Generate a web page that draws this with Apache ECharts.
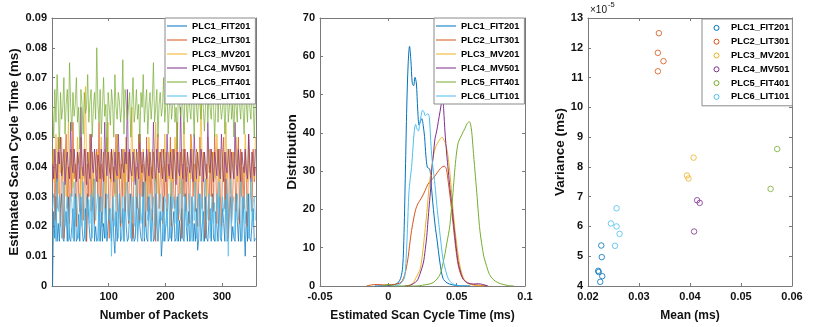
<!DOCTYPE html>
<html><head><meta charset="utf-8">
<script src="https://cdn.jsdelivr.net/npm/echarts@6/dist/echarts.min.js"></script>
<style>html,body{margin:0;padding:0;background:#fff}#c{width:817px;height:327px}</style>
</head><body><div id="c"></div>
<script>
// ---------------- DATA ----------------
const names = ['PLC1_FIT201','PLC2_LIT301','PLC3_MV201','PLC4_MV501','PLC5_FIT401','PLC6_LIT101'];
const colors = ['#0072BD','#D95319','#EDB120','#7E2F8E','#77AC30','#4DBEEE'];

// Panel 1: estimated scan cycle time per packet, in microseconds (1e-3 ms),
// one sample every 2 packets starting at packet 1
const ts_plc1 = [0,25,16,30,15,21,15,26,31,16,15,22,25,15,30,16,15,20,26,15,
31,15,16,24,15,30,20,15,16,26,15,31,22,16,15,25,36,15,20,15,
16,30,15,25,15,21,16,31,15,15,26,20,15,30,16,11,25,15,22,31,
15,16,26,15,30,20,15,16,25,31,15,21,15,16,30,15,26,20,16,15,
35,15,25,16,15,30,22,15,26,15,16,31,20,15,15,25,10,16,30,15,
21,26,15,16,31,15,20,25,15,16,30,15,22,15,26,16,15,31,20,15,
25,15,16,30,15,21,15,26,12,16,31,15,20,25,15,30,16,15,22,26,
15,31,16,15,25,20,15,30,16,15,26,21,15,36,15,16,25,30,15,20,
16,15,31,22,15,26,15,16,30,20,10,25,15,31,16,15,21,26,15,16];
const ts_plc2 = [35,46,22,41,26,50,31,20,45,36,16,41,51,26,40,21,46,30,55,36,
41,20,45,31,25,50,40,22,36,46,15,41,30,51,25,45,36,21,40,46,
30,55,25,41,20,45,35,26,50,41,16,36,46,22,40,31,51,25,45,36,
20,41,30,46,25,50,36,21,45,41,31,16,46,35,40,26,51,22,45,30,
41,36,20,50,25,46,31,40,22,45,35,15,41,51,26,36,46,21,40,30,
45,25,41,36,50,20,46,31,26,40,55,22,35,45,16,41,30,46,25,40,
36,21,51,45,30,41,25,46,20,35,50,40,26,45,31,16,41,36,22,46,
30,45,25,51,40,21,36,46,31,20,41,50,26,45,35,16,40,46,22,31,
45,36,25,41,50,21,46,30,40,26,45,36,20,51,41,31,25,46,35,40];
const ts_plc3 = [40,46,35,51,41,31,45,38,50,36,41,46,30,40,55,36,45,41,33,46,
39,35,50,41,45,30,40,36,46,67,41,35,45,40,51,36,30,46,41,38,
45,35,41,50,36,40,46,31,41,55,38,45,35,40,46,30,41,51,36,45,
40,35,46,41,31,50,39,45,36,41,60,35,46,40,30,45,41,51,36,40,
46,35,41,45,30,50,40,36,46,41,35,55,40,31,45,38,41,46,35,51,
40,36,45,41,30,46,40,35,50,41,36,45,39,31,46,41,55,36,40,45,
35,41,50,36,46,40,31,45,41,35,46,62,40,36,45,41,30,50,38,46,
41,35,45,40,36,51,41,30,46,40,35,45,41,55,36,40,46,31,41,45,
36,40,50,35,46,41,31,45,40,36,51,41,35,46,40,30,45,41,36,50];
const ts_plc4 = [41,36,46,39,35,45,41,50,37,40,46,34,41,45,39,36,55,41,38,46,
40,35,45,42,36,60,40,37,46,41,34,45,39,36,51,41,38,46,40,35,
44,41,36,46,39,35,55,41,37,45,40,36,46,42,35,45,39,37,51,41,
36,46,40,38,45,41,66,35,46,39,37,45,41,34,46,40,36,51,41,38,
45,40,35,46,41,37,45,39,36,55,41,35,46,40,38,45,41,36,46,39,
35,51,41,37,45,40,36,46,41,34,45,39,37,60,41,36,46,40,35,45,
41,38,46,39,35,51,41,36,45,40,37,46,42,35,45,39,36,55,41,38,
46,40,35,45,41,37,46,39,36,51,41,35,45,40,38,46,41,36,45,39,
36,55,41,37,46,40,35,45,41,38,46,39,36,51,41,35,45,40,37,46];
const ts_plc5 = [60,50,66,55,71,61,46,65,56,60,70,51,61,66,55,75,60,52,65,57,
61,70,55,60,46,66,61,51,65,58,60,71,55,62,66,50,60,65,56,80,
61,55,66,51,60,70,57,61,45,65,60,54,66,61,50,71,60,56,65,62,
55,60,76,51,66,61,56,60,65,50,61,70,55,59,66,56,61,48,65,60,
71,55,61,66,51,60,65,56,62,75,55,60,66,50,61,65,57,60,70,55,
61,66,51,60,65,56,61,71,55,60,46,66,61,57,65,60,51,70,61,55,
66,60,56,65,61,50,71,60,55,66,61,56,65,60,52,61,70,55,66,60,
56,65,61,50,60,76,55,66,61,56,60,65,51,61,70,55,60,66,56,61,
50,65,60,55,71,61,56,66,60,51,65,61,55,70,60,56,66,61,50,65];
const ts_plc6 = [26,31,21,15,36,25,30,22,16,29,35,20,26,30,15,25,31,28,16,35,
22,30,25,16,31,27,20,35,26,15,30,24,29,21,31,16,25,36,22,28,
31,15,26,30,20,35,25,16,29,31,22,26,10,30,25,20,36,28,16,31,
25,21,30,15,28,35,26,22,31,16,25,30,20,29,36,15,26,31,21,25,
30,16,35,26,22,28,31,15,25,30,20,36,29,16,26,31,22,25,15,30,
28,20,31,25,16,35,26,30,21,29,15,31,25,22,36,28,16,30,26,20,
31,25,15,30,28,22,35,16,26,31,20,25,30,15,29,36,22,26,31,16,
25,30,21,28,15,31,26,35,20,16,30,25,29,22,31,10,26,36,21,28,
30,16,25,31,22,28,35,15,26,30,21,29,31,16,25,36,20,28,30,22];
const tsSeries = [ts_plc1, ts_plc2, ts_plc3, ts_plc4, ts_plc5, ts_plc6];
const packetTicks = {min:0, max:360, interval:100};

// Panel 2: distribution (kernel density) of scan cycle time, [ms, density]
const kde_plc1 = [[-0.01,0],[0,0.1],[0.004,0.3],[0.007,0.8],[0.009,2],[0.0105,5],[0.0115,14],[0.0125,30],[0.0135,47],[0.0145,58],[0.0155,62.6],[0.0165,59],[0.0175,53],[0.0185,52.3],[0.0195,54.5],[0.0205,53],[0.0215,46],[0.0225,42],[0.0235,43],[0.0245,43.7],[0.0255,42],[0.0265,39],[0.0275,34],[0.0285,31],[0.0295,30.8],[0.0305,30.3],[0.0315,26],[0.033,20],[0.0345,15],[0.0355,12.5],[0.0378,6],[0.040,2],[0.043,0.8],[0.047,0.3],[0.052,0.1],[0.06,0]];
const kde_plc2 = [[-0.016,0],[-0.012,0.3],[-0.008,0.4],[-0.004,0.3],[0,0.3],[0.004,0.4],[0.007,0.6],[0.0095,1],[0.011,2],[0.012,3],[0.013,4.4],[0.0145,7.5],[0.0155,10.5],[0.017,14.5],[0.0185,17.5],[0.020,20],[0.0215,21.4],[0.023,22.3],[0.025,23.5],[0.027,25],[0.029,26.6],[0.031,27.5],[0.033,28.2],[0.035,29.2],[0.037,30.2],[0.039,31],[0.041,31.3],[0.0425,30.5],[0.0439,27],[0.045,24],[0.0464,19.5],[0.0476,15.5],[0.0488,11.5],[0.050,8],[0.0512,5.3],[0.053,3],[0.0549,1.8],[0.058,0.8],[0.0622,0.4],[0.067,0.2],[0.072,0]];
const kde_plc3 = [[0.012,0],[0.016,0.3],[0.0183,0.9],[0.020,2],[0.0232,4.3],[0.0245,7],[0.0256,10.3],[0.027,15],[0.0281,18.9],[0.029,22.5],[0.030,26.6],[0.0317,30.9],[0.033,34],[0.0345,36.2],[0.036,37.3],[0.0375,38.2],[0.039,38.8],[0.040,38.6],[0.0415,37.5],[0.0427,36],[0.044,33],[0.0451,29.2],[0.0464,24],[0.0476,18.9],[0.0488,14.5],[0.050,11.1],[0.0512,7.8],[0.0525,5.1],[0.054,3],[0.0555,1.7],[0.0574,0.9],[0.060,0.4],[0.065,0.1],[0.070,0]];
const kde_plc4 = [[0.012,0],[0.016,0.2],[0.0208,1.3],[0.023,3],[0.0256,6],[0.027,9.5],[0.0281,12.9],[0.029,17],[0.030,21.4],[0.031,25.5],[0.0317,30],[0.033,34.5],[0.0342,38.6],[0.0354,40.5],[0.0366,43],[0.0378,45.5],[0.039,48],[0.0398,49],[0.0405,46],[0.0415,40],[0.0427,34.5],[0.0439,30],[0.0451,25.5],[0.0464,21.4],[0.0476,17],[0.0488,12.9],[0.050,9],[0.0512,6],[0.053,3.5],[0.0549,1.7],[0.058,0.8],[0.062,0.5],[0.066,0.6],[0.069,0.4],[0.073,0]];
const kde_plc5 = [[-0.004,0],[0,0.4],[0.004,0],[0.02,0],[0.025,0.2],[0.0329,0.9],[0.0378,3],[0.040,6],[0.0415,8.5],[0.0427,11],[0.044,13.5],[0.0451,16],[0.046,19.5],[0.047,23],[0.0476,25.7],[0.0488,31],[0.050,35],[0.0512,37.5],[0.0537,39.5],[0.0561,41.2],[0.0578,42.5],[0.0593,42.9],[0.060,42.5],[0.061,40.3],[0.062,36],[0.0634,30],[0.0647,24.5],[0.0659,18.9],[0.067,14.5],[0.0683,11.1],[0.070,7.5],[0.072,5.1],[0.074,3],[0.0768,1.7],[0.080,0.9],[0.0841,0.4],[0.088,0.1],[0.092,0]];
const kde_plc6 = [[0.005,0.1],[0.008,0.4],[0.0105,1.2],[0.012,2.5],[0.013,7],[0.014,15],[0.015,24],[0.016,28],[0.017,31],[0.018,36],[0.019,40.5],[0.020,42.2],[0.021,41],[0.022,40.5],[0.023,42.5],[0.024,44.5],[0.025,45.9],[0.026,45.5],[0.027,44.5],[0.028,44.8],[0.029,45],[0.030,44],[0.031,38],[0.032,33],[0.033,30],[0.0345,25],[0.0355,21],[0.037,16],[0.038,12.9],[0.040,7],[0.042,4],[0.044,1.8],[0.047,0.6],[0.05,0.2],[0.055,0]];
const kdeSeries = [kde_plc1, kde_plc2, kde_plc3, kde_plc4, kde_plc5, kde_plc6];

// Panel 3: mean (ms) and variance (in units of 1e-5 ms)
const mean_plc1 = [0.0226,0.0227,0.0220,0.0221,0.0228,0.0224];
const var_plc1  = [5.36,4.97,4.51,4.47,4.33,4.14];
const mean_plc2 = [0.0339,0.0337,0.0348,0.0337];
const var_plc2  = [12.49,11.83,11.55,11.21];
const mean_plc3 = [0.0407,0.0394,0.0397];
const var_plc3  = [8.31,7.71,7.61];
const mean_plc4 = [0.0414,0.0419,0.0408];
const var_plc4  = [6.88,6.79,5.83];
const mean_plc5 = [0.0571,0.0558];
const var_plc5  = [8.60,7.26];
const mean_plc6 = [0.0256,0.0245,0.0256,0.0262,0.0253];
const var_plc6  = [6.61,6.10,6.00,5.75,5.35];
const meanSeries = [mean_plc1, mean_plc2, mean_plc3, mean_plc4, mean_plc5, mean_plc6];
const varSeries = [var_plc1, var_plc2, var_plc3, var_plc4, var_plc5, var_plc6];

// ---------------- CHART ----------------
const FONT = '"Liberation Sans", Arial, Helvetica, sans-serif';
const AX = '#7a7a7a';
const TXT = '#111';
const LINE_ICON = 'path://M0,0L0.01,0L0,0.01Z M0,14L0.01,14L0,13.99Z M0,6.4L20,6.4L20,7.6L0,7.6Z';

function baseAxis(gi, min, max, interval) {
  return {
    type: 'value', gridIndex: gi, min: min, max: max, interval: interval,
    axisLine: {show: true, onZero: false, lineStyle: {color: AX, width: 1}},
    axisTick: {show: true, inside: true, length: 3, lineStyle: {color: AX}},
    splitLine: {show: false}
  };
}
function label(extra) {
  return Object.assign({show: true, margin: 5, fontSize: 11, fontWeight: 'bold', color: TXT, fontFamily: FONT}, extra || {});
}
function nameStyle(size) {
  return {fontSize: size, fontWeight: 'bold', color: TXT, fontFamily: FONT};
}
function xPair(gi, min, max, interval, name, labExtra) {
  const b = baseAxis(gi, min, max, interval);
  b.position = 'bottom';
  b.name = name; b.nameLocation = 'middle'; b.nameGap = 24;
  b.nameTextStyle = nameStyle(12);
  b.axisLabel = label(labExtra);
  const t = baseAxis(gi, min, max, interval);
  t.position = 'top'; t.axisLabel = {show: false};
  return [b, t];
}
function yPair(gi, min, max, interval, name, gap) {
  const l = baseAxis(gi, min, max, interval);
  l.position = 'left';
  l.name = name; l.nameLocation = 'middle'; l.nameGap = gap;
  l.nameTextStyle = nameStyle(13.5);
  l.axisLabel = label();
  const r = baseAxis(gi, min, max, interval);
  r.position = 'right'; r.axisLabel = {show: false};
  return [l, r];
}

const xAxes = [].concat(
  xPair(0, packetTicks.min, packetTicks.max, packetTicks.interval, 'Number of Packets', {showMinLabel: false, showMaxLabel: false}),
  xPair(1, -0.05, 0.1, 0.05, 'Estimated Scan Cycle Time (ms)'),
  xPair(2, 0.02, 0.06, 0.01, 'Mean (ms)')
);
const yAxes = [].concat(
  yPair(0, 0, 0.09, 0.01, 'Estimated Scan Cycle Time (ms)', 25),
  yPair(1, 0, 70, 10, 'Distribution', 16),
  yPair(2, 4, 13, 1, 'Variance (ms)', 13)
);

const series = [];
tsSeries.forEach((arr, k) => {
  series.push({
    name: names[k], type: 'line', xAxisIndex: 0, yAxisIndex: 0,
    data: arr.map((v, i) => [1 + 2 * i, v / 1000]),
    symbol: 'none', showSymbol: false, animation: false,
    lineStyle: {color: colors[k], width: 0.7}, itemStyle: {color: colors[k]}
  });
});
kdeSeries.forEach((arr, k) => {
  series.push({
    name: names[k], type: 'line', xAxisIndex: 2, yAxisIndex: 2,
    data: arr, symbol: 'none', showSymbol: false, smooth: 0.3, animation: false,
    lineStyle: {color: colors[k], width: 1}, itemStyle: {color: colors[k]}
  });
});
meanSeries.forEach((arr, k) => {
  series.push({
    name: names[k], type: 'scatter', xAxisIndex: 4, yAxisIndex: 4,
    data: arr.map((m, i) => [m, varSeries[k][i]]),
    symbol: 'circle', symbolSize: 5.5, animation: false,
    itemStyle: {color: 'rgba(255,255,255,0)', borderColor: colors[k], borderWidth: 1}
  });
});

const legendText = {fontSize: 9.3, fontWeight: 'bold', color: '#000', fontFamily: FONT};
function lineLegend(left) {
  return {
    left: left, top: 18, orient: 'vertical', data: names.slice(),
    icon: LINE_ICON, itemWidth: 20, itemHeight: 14, itemGap: 0,
    padding: [1, 5, 1, 2], borderColor: '#8a8a8a', borderWidth: 1, backgroundColor: '#fff',
    itemStyle: {borderWidth: 0}, textStyle: legendText, selectedMode: false
  };
}
const chart = echarts.init(document.getElementById('c'), null, {renderer: 'canvas'});
chart.setOption({
  backgroundColor: '#fff',
  animation: false,
  grid: [
    {left: 52, top: 18, width: 204, height: 272},
    {left: 320, top: 18, width: 205, height: 272},
    {left: 588, top: 18, width: 204, height: 272}
  ],
  xAxis: xAxes,
  yAxis: yAxes,
  legend: [
    lineLegend(165),
    lineLegend(434),
    {
      left: 702, top: 19, orient: 'vertical',
      data: names.map((n, k) => ({name: n, itemStyle: {color: 'rgba(255,255,255,0)', borderColor: colors[k], borderWidth: 1}})),
      icon: 'circle', itemWidth: 5, itemHeight: 14, itemGap: 4.8,
      padding: [4.4, 3, 4.4, 11.5], borderColor: '#8a8a8a', borderWidth: 1, backgroundColor: '#fff',
      textStyle: Object.assign({padding: [0, 0, 0, 7]}, legendText), selectedMode: false
    }
  ],
  graphic: [
    {type: 'text', left: 590, top: 5, style: {text: '\u00d710', fontSize: 10, fontFamily: FONT, fill: TXT}},
    {type: 'text', left: 608, top: 1, style: {text: '-5', fontSize: 7.5, fontFamily: FONT, fill: TXT}}
  ],
  series: series
});
</script></body></html>
